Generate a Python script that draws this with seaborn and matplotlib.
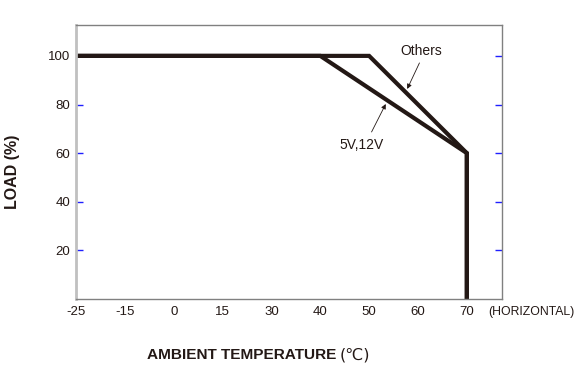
import numpy as np
import pandas as pd
import matplotlib
matplotlib.use("Agg")
import matplotlib.pyplot as plt
import seaborn as sns

# Data
tick_temps = [-25, -15, 0, 15, 30, 40, 50, 60, 70]
y_ticks = [20, 40, 60, 80, 100]
temp_5v12v = [-25, 40, 70, 70]
load_5v12v = [100, 100, 60, 0]
temp_others = [-25, 50, 70, 70]
load_others = [100, 100, 60, 0]

sns.set_style("white")
plt.rcParams['font.family'] = ['Liberation Sans Narrow', 'Liberation Sans', 'DejaVu Sans']

def pos(t):
    return np.interp(t, tick_temps, np.arange(len(tick_temps)))

df = pd.concat([
    pd.DataFrame({"x": pos(temp_5v12v), "load": load_5v12v, "series": "5V,12V", "order": range(4)}),
    pd.DataFrame({"x": pos(temp_others), "load": load_others, "series": "Others", "order": range(4)}),
])

fig = plt.figure(figsize=(5.8, 3.67), dpi=100)
ax = fig.add_axes([76/580, 1-299/367, (502-76)/580, (299-25)/367])
line_col = "#231815"
sns.lineplot(data=df, x="x", y="load", units="series", estimator=None, sort=False,
             color=line_col, lw=3.0, ax=ax, legend=False, solid_joinstyle="miter")

ax.set_xlim(0, 8.72)
ax.set_ylim(0, 112.7)
ax.set_xticks(np.arange(len(tick_temps)))
ax.set_xticklabels([str(t) for t in tick_temps])
ax.set_yticks(y_ticks)
ax.set_yticklabels([str(v) for v in y_ticks])
ax.tick_params(axis='x', direction='in', length=5, width=1, color='#2020ff',
               labelsize=9.5, pad=5, labelcolor='#231815')
ax.tick_params(axis='y', direction='in', length=5, width=1, color='#2020ff',
               labelsize=9.5, pad=4, labelcolor='#231815', right=True, left=True)
for s in ['top', 'right', 'bottom']:
    ax.spines[s].set_color('#808080')
    ax.spines[s].set_linewidth(1)
    ax.spines[s].set_visible(True)
ax.spines['left'].set_color('#c0c0c0')
ax.spines['left'].set_linewidth(2)
ax.spines['left'].set_visible(True)
ax.set_xlabel("")
ax.set_ylabel("")

fig.text(13/580, 1-172/367, "LOAD (%)", rotation=90, ha='center', va='center',
         fontsize=11.5, fontweight='bold', color='#231815')
fig.text(336/580, 1-355/367, "AMBIENT TEMPERATURE", ha='right', va='center',
         fontsize=11.1, fontweight='bold', color='#231815')
fig.text(340/580, 1-355/367, "(℃)", ha='left', va='center',
         fontsize=11.5, color='#231815', family=['DejaVu Sans'])
fig.text(488/580, 1-312/367, "(HORIZONTAL)", ha='left', va='center',
         fontsize=8.8, color='#231815')

ax.text(7.06, 102, "Others", ha='center', va='center', fontsize=10, color='#231815')
ax.text(5.85, 63.4, "5V,12V", ha='center', va='center', fontsize=10, color='#231815')
arrow = dict(arrowstyle="-|>", lw=0.6, color='#231815', mutation_scale=7, shrinkA=0, shrinkB=0)
ax.annotate("", xy=(6.78, 86.4), xytext=(7.03, 97.1), arrowprops=arrow)
ax.annotate("", xy=(6.34, 80.2), xytext=(6.05, 68.7), arrowprops=arrow)

fig.savefig("out.png", dpi=100)
